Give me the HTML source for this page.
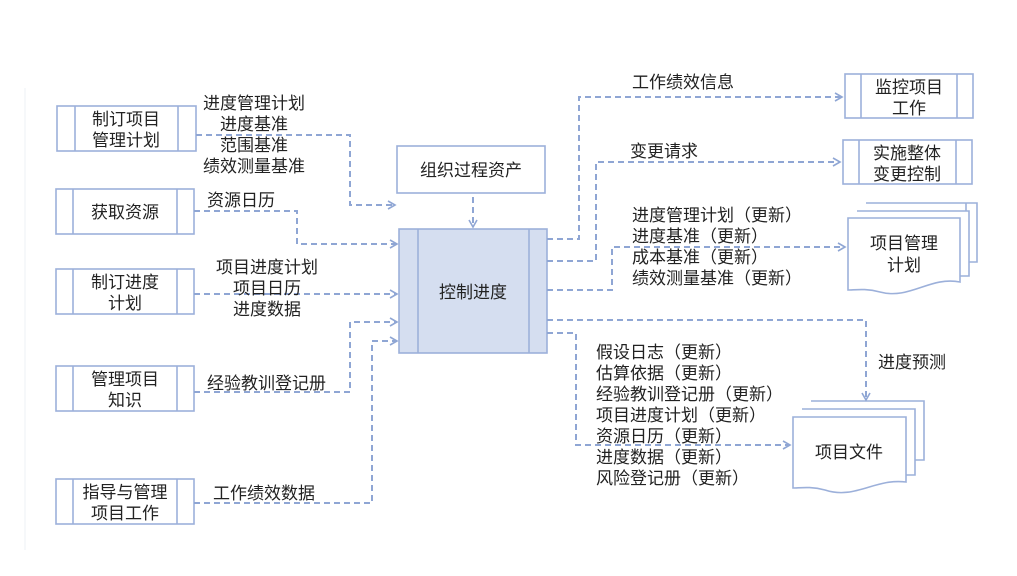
<!DOCTYPE html>
<html><head><meta charset="utf-8"><style>
html,body{margin:0;padding:0;background:#fff;}
svg text{font-family:"Liberation Sans","Noto Sans CJK SC",sans-serif;font-size:17px;fill:#222;}
</style></head><body>
<svg width="1017" height="571" viewBox="0 0 1017 571" xmlns="http://www.w3.org/2000/svg">
<defs>
<marker id="a" markerWidth="10" markerHeight="10" refX="8" refY="5" orient="auto" markerUnits="userSpaceOnUse">
<path d="M1,1 L8,5 L1,9" fill="none" stroke="#8fa6d4" stroke-width="1.6"/>
</marker>
</defs>
<line x1="25" y1="88" x2="25" y2="550" stroke="#eef0f4" stroke-width="1"/>
<g fill="#fff" stroke="#9cb0da" stroke-width="1.6">
<rect x="57" y="106" width="139" height="45"/><line x1="75" y1="106" x2="75" y2="151"/><line x1="178" y1="106" x2="178" y2="151"/>
<rect x="56" y="189" width="138" height="45"/><line x1="73" y1="189" x2="73" y2="234"/><line x1="177" y1="189" x2="177" y2="234"/>
<rect x="56" y="269" width="138" height="45"/><line x1="73" y1="269" x2="73" y2="314"/><line x1="177" y1="269" x2="177" y2="314"/>
<rect x="56" y="366" width="138" height="45"/><line x1="73" y1="366" x2="73" y2="411"/><line x1="177" y1="366" x2="177" y2="411"/>
<rect x="56" y="479" width="138" height="45"/><line x1="73" y1="479" x2="73" y2="524"/><line x1="177" y1="479" x2="177" y2="524"/>
<rect x="397" y="146" width="148" height="47"/>
<rect x="399" y="229" width="148" height="124" fill="#d5def0"/><line x1="418" y1="229" x2="418" y2="353"/><line x1="529" y1="229" x2="529" y2="353"/>
<rect x="845" y="74" width="128" height="44"/><line x1="861" y1="74" x2="861" y2="118"/><line x1="957" y1="74" x2="957" y2="118"/>
<rect x="843" y="140" width="129" height="44"/><line x1="859" y1="140" x2="859" y2="184"/><line x1="956" y1="140" x2="956" y2="184"/>
<path d="M866,203 H977 V262 H966 V203"/>
<path d="M857,211 H969 V276 H960"/>
<path d="M848,218 H960 V282 C930,276 910,300 880,292 C865,288 855,290 848,290 Z"/>
<path d="M811,401 H924 V460 H915"/>
<path d="M802,409 H915 V475 H906"/>
<path d="M793,417 H906 V482 C875,478 855,500 825,490 C810,486 800,488 793,488 Z"/>
</g>
<g fill="none" stroke="#8fa6d4" stroke-width="2" stroke-dasharray="6,4">
<path d="M196,135 H350 V205 H395" marker-end="url(#a)"/>
<path d="M473,197 V227" marker-end="url(#a)"/>
<path d="M194,211 H297 V244 H397" marker-end="url(#a)"/>
<path d="M194,294 H397" marker-end="url(#a)"/>
<path d="M194,392 H350 V322 H397" marker-end="url(#a)"/>
<path d="M194,503 H372 V341 H397" marker-end="url(#a)"/>
<path d="M547,239 H579 V97 H842" marker-end="url(#a)"/>
<path d="M547,261 H596 V162 H840" marker-end="url(#a)"/>
<path d="M547,290 H612 V247 H845" marker-end="url(#a)"/>
<path d="M547,320 H866 V400" marker-end="url(#a)"/>
<path d="M547,333 H576 V445 H790" marker-end="url(#a)"/>
</g>
<g text-anchor="middle">
<text x="126" y="125">制订项目</text><text x="126" y="146">管理计划</text>
<text x="125" y="218">获取资源</text>
<text x="125" y="288">制订进度</text><text x="125" y="309">计划</text>
<text x="125" y="385">管理项目</text><text x="125" y="406">知识</text>
<text x="125" y="498">指导与管理</text><text x="125" y="519">项目工作</text>
<text x="471" y="176">组织过程资产</text>
<text x="473" y="298">控制进度</text>
<text x="909" y="93">监控项目</text><text x="909" y="114">工作</text>
<text x="907" y="159">实施整体</text><text x="907" y="180">变更控制</text>
<text x="904" y="249">项目管理</text><text x="904" y="271">计划</text>
<text x="849" y="458">项目文件</text>
<text x="254" y="109">进度管理计划</text><text x="254" y="130">进度基准</text><text x="254" y="151">范围基准</text><text x="254" y="172">绩效测量基准</text>
<text x="267" y="273">项目进度计划</text><text x="267" y="294">项目日历</text><text x="267" y="315">进度数据</text>
</g>
<text x="207" y="206">资源日历</text>
<text x="207" y="389">经验教训登记册</text>
<text x="213" y="499">工作绩效数据</text>
<text x="632" y="88">工作绩效信息</text>
<text x="630" y="157">变更请求</text>
<text x="632" y="221">进度管理计划（更新）</text>
<text x="632" y="242">进度基准（更新）</text>
<text x="632" y="263">成本基准（更新）</text>
<text x="632" y="284">绩效测量基准（更新）</text>
<text x="878" y="368">进度预测</text>
<text x="596" y="358">假设日志（更新）</text>
<text x="596" y="379">估算依据（更新）</text>
<text x="596" y="400">经验教训登记册（更新）</text>
<text x="596" y="421">项目进度计划（更新）</text>
<text x="596" y="442">资源日历（更新）</text>
<text x="596" y="463">进度数据（更新）</text>
<text x="596" y="484">风险登记册（更新）</text>
</svg>
</body></html>
